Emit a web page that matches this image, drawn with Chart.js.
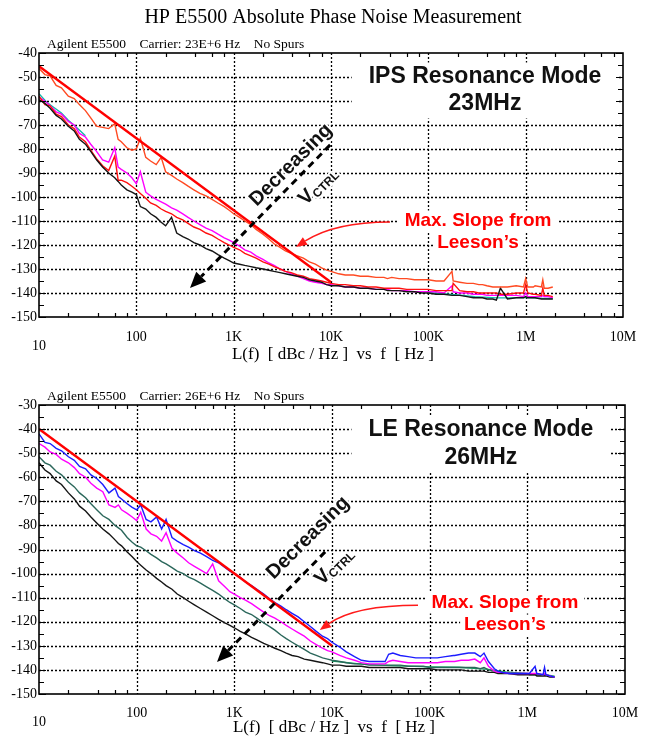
<!DOCTYPE html>
<html><head><meta charset="utf-8">
<script src="https://cdn.jsdelivr.net/npm/chart.js@4/dist/chart.umd.min.js"></script>
<style>
html,body{margin:0;padding:0;background:#fff;}
body{width:650px;height:743px;position:relative;overflow:hidden;}
canvas{position:absolute;left:0;}
#c1{top:0}
#c2{top:372px}
</style></head><body>
<canvas id="c1" width="650" height="372"></canvas>
<canvas id="c2" width="650" height="371"></canvas>
<script>
// ---------- data ----------
const FREQ = [10, 11.5, 13, 15, 17, 20, 23, 26, 30, 34, 39, 45, 52, 60, 65, 70, 80, 90,
 100, 110, 125, 140, 160, 180, 200, 230, 260, 300, 340, 390, 450, 520, 600, 690, 800, 900,
 1000, 1150, 1300, 1500, 1700, 2000, 2300, 2600, 3000, 3400, 3900, 4500, 5200, 6000, 6900, 8000, 9000,
 10000, 12000, 14000, 17000, 20000, 24000, 29000, 35000, 38000, 42000, 50000, 60000, 72000, 86000,
 100000, 120000, 145000, 175000, 180000, 210000, 250000, 290000, 330000, 360000, 400000, 460000, 500000, 550000, 650000, 800000, 950000, 1000000, 1050000, 1200000, 1250000, 1450000, 1500000, 1550000, 1700000, 1900000];

const X_TICK_VALUES = [10, 100, 1000, 10000, 100000, 1000000, 10000000];
const X_TICK_LABELS = ['10', '100', '1K', '10K', '100K', '1M', '10M'];
const X_MINOR_MULT = [2, 4, 6, 8];

// Panel 1 : IPS resonance mode, 23 MHz
const IPS_SLOPE_F = [10, 10000];
const IPS_SLOPE = [-45.5, -135.5];
const IPS_ORANGE = [-46.5, -49, -49.5, -53.5, -54.5, -58, -59, -61.5, -64, -67, -70.5, -71, -71.5, -69.5, -76, -77, -79.5, -80.5,
 -80, -75.5, -83.5, -85, -86.5, -83.5, -89.5, -91, -92.5, -94, -95.5, -97, -98.5, -99.5, -101, -102.5, -104, -105.5,
 -107, -108.5, -110, -111.5, -113.5, -115.5, -117.5, -119.5, -121, -122.5, -123.5, -124.5, -125.5, -127, -128, -129.5, -130.5,
 -131, -132, -132.5, -132.5, -133, -133, -133.5, -133.5, -134, -133.5, -134, -134, -134.5, -134.5,
 -134.5, -135, -135, -131, -135, -135.5, -136, -136, -136.5, -136.5, -137, -137.5, -137.5, -137.5, -137.5, -137, -137.5, -134, -137.5, -137.5, -137, -137.5, -134.5, -138, -138, -137.5];
const IPS_RED = [-58, -61.5, -62, -65.5, -66.5, -70, -71.5, -75, -77, -80.5, -84, -87, -89, -83, -93, -93, -94, -95.5,
 -97, -98.5, -100.5, -102.5, -103.5, -105, -106, -107, -108.5, -109.5, -111, -112.5, -113.5, -115, -116, -117.5, -119, -120,
 -121, -122, -123.5, -124.5, -125.5, -127, -128, -129, -130, -131, -131.5, -132.5, -133, -134, -134.5, -135, -135.5,
 -136, -136.5, -136.5, -137, -137, -137.5, -137.5, -138, -138, -138, -138, -138.5, -138.5, -138.5,
 -138.5, -139, -139, -139, -136, -139, -139.5, -139.5, -140, -140, -140, -140, -140, -140.5, -140.5, -140, -140, -136.5, -140, -140.5, -140.5, -141, -138, -141, -141, -141.5];
const IPS_MAGENTA = [-58.5, -60, -62, -64.5, -65.5, -68.5, -70, -73.5, -75, -78, -81, -84.5, -85.5, -79.5, -87.5, -88.5, -90, -92,
 -94.5, -89.5, -98, -99.5, -101, -102, -103, -104.5, -105.5, -107, -108.5, -110, -111.5, -113, -114, -115.5, -117, -118,
 -119, -120.5, -122, -123, -124.5, -126, -127.5, -128.5, -130, -131, -132, -133, -134, -135, -135.5, -136, -136.5,
 -136.5, -137, -137.5, -137.5, -138, -138, -138.5, -138.5, -138.5, -139, -139, -139, -139.5, -139.5,
 -139.5, -139.5, -140, -137, -139.5, -140, -140, -140.5, -140.5, -140.5, -141, -141, -141, -141, -141, -141, -141.5, -140, -141.5, -141.5, -141.5, -141.5, -141, -141.5, -141.5, -142];
const IPS_BLACK = [-59.5, -61, -63, -66, -67.5, -70.5, -72.5, -76, -78, -81, -84.5, -87.5, -90, -92, -93.5, -95, -97, -98,
 -99, -104, -105, -107, -108.5, -110.5, -112, -108.5, -115, -116.5, -117.5, -119, -120, -121.5, -122.5, -124, -125.5, -126.5,
 -127.5, -128, -128.5, -129, -129.5, -130, -130.5, -131, -131.5, -132, -132.5, -133, -133.5, -134.5, -135, -135.5, -136.5,
 -137, -137, -137.5, -137.5, -138, -138, -138.5, -138.5, -139, -139, -139, -139.5, -139.5, -140,
 -140, -140.5, -140.5, -141, -141, -141, -141.5, -142, -142, -142, -142.5, -142.5, -143, -138, -142.5, -142, -142, -141.5, -142, -142, -142, -142.5, -142.5, -142.5, -142.5, -142.5];
// cyan trace: visible only at the low and high ends (null = hidden under the other traces)
const IPS_CYAN_F = [10, 12, 14, 17, 20, 25, 30, 40, 100000, 200000, 300000, 500000, 700000, 1000000, 1500000, 1900000];
const IPS_CYAN = [-57, -60.5, -62.5, -65, -68, -71.5, -74.5, null, -139.8, -140.8, -141.5, -142, -142, -141.8, -142.2, -142.3];

// Panel 2 : LE resonance mode, 26 MHz
const LE_SLOPE_F = [10, 10000];
const LE_SLOPE = [-40, -130];
const LE_BLUE = [-42, -45.5, -46, -48, -49, -51.5, -53, -55.5, -56.5, -59, -60.5, -63, -66.5, -64.5, -68, -69, -71, -72.5,
 -73.5, -71.5, -77.5, -78.5, -76.5, -81.5, -77.5, -85, -86.5, -88, -89, -90.5, -91.5, -93, -94.5, -95.5, -97.5, -99,
 -100, -101.5, -103.5, -105, -106.5, -108.5, -110.5, -112, -113.5, -115, -116.5, -118, -120, -122, -124, -126, -127,
 -128.5, -130.5, -132.5, -134.5, -136, -136.5, -136.5, -136.5, -133.5, -133, -134, -134.5, -135, -135,
 -135, -135, -134.5, -134, -134, -133.5, -133, -133, -134.5, -133, -136.5, -139.5, -140.5, -141, -141.5, -141.5, -141.5, -141.5, -141.5, -138.5, -141.5, -142, -139, -142, -142.5, -143];
const LE_MAGENTA = [-46, -47.5, -49.5, -50.5, -52.5, -54, -56, -58.5, -60, -62.5, -64.5, -66, -71.5, -72.5, -71.5, -73.5, -75, -76.5,
 -78, -74.5, -81.5, -83.5, -84.5, -86.5, -83, -89.5, -91.5, -93.5, -95.5, -97, -98.5, -100, -96, -103, -105.5, -107.5,
 -108.5, -110, -111, -112.5, -114, -116, -117.5, -118.5, -120, -121.5, -123, -124.5, -126, -128, -129.5, -131, -132,
 -132.5, -134, -135, -136, -137, -137.5, -137.5, -137.5, -136.5, -136, -136.5, -137, -137, -137,
 -137, -137, -136.5, -136.5, -136.5, -136, -136, -135.5, -137, -135, -138.5, -140.5, -141, -141, -141.5, -141.5, -141.5, -141.5, -141.5, -141.5, -141.5, -142, -141.5, -142, -142.5, -143];
const LE_TEAL = [-51.5, -54, -55, -57.5, -59, -62, -64, -66.5, -68.5, -71, -73.5, -76, -77.5, -80, -81, -82, -85, -87,
 -88.5, -89, -90.5, -92, -93.5, -95, -96, -97.5, -99, -100, -101.5, -102.5, -104, -105.5, -107, -108.5, -110.5, -112,
 -113, -114.5, -116, -117, -118.5, -120.5, -122, -123.5, -125.5, -127, -128.5, -130, -131.5, -133, -134, -135, -135.5,
 -136, -136.5, -137, -137.5, -137.5, -138, -138, -138, -138, -138, -138, -138.5, -138.5, -138.5,
 -139, -139, -139, -139, -139, -139, -139, -139, -139.5, -139, -140, -140.5, -141, -141, -141.5, -141.5, -141.5, -141.5, -142, -142, -142, -142, -142, -142, -142.5, -143];
const LE_BLACK = [-54, -57, -58.5, -61.5, -63, -66.5, -69, -72, -74, -76.5, -79, -81.5, -83.5, -86, -87.5, -88.5, -91, -93,
 -95, -96.5, -98.5, -100, -102, -103.5, -105, -106.5, -108.5, -110, -111.5, -113, -114.5, -116, -117.5, -119, -120.5, -121.5,
 -122.5, -124, -125, -126.5, -127.5, -129, -130, -131, -132, -133, -134, -134.5, -135.5, -136, -136.5, -137, -137.5,
 -138, -138, -138.5, -138.5, -138.5, -139, -139, -139, -139, -139, -139, -139.5, -139.5, -139.5,
 -139.5, -140, -140, -140, -140, -140, -140.5, -140.5, -140.5, -140.5, -141, -141, -141.5, -141.5, -141.5, -142, -142, -142, -142, -142, -142.5, -142.5, -142.5, -142.5, -143, -143];
const LE_GREEN_F = [10000, 20000, 40000, 100000, 200000, 400000, 600000, 1000000, 1500000, 1900000];
const LE_GREEN = [-136.3, -137.6, -138.2, -138.7, -138.9, -139.8, -140.8, -141.5, -142, -142.6];

// ---------- helpers ----------
const SERIF = "'Liberation Serif','Times New Roman',serif";
const SANS = "'Liberation Sans',Arial,sans-serif";

function pts(fr, vals) { return fr.map((f, i) => ({ x: f, y: vals[i] })); }
function ds(label, fr, vals, color, width, gaps) {
  return { label, data: pts(fr, vals), borderColor: color, backgroundColor: color, borderWidth: width || 1.4,
           pointRadius: 0, fill: false, tension: 0, spanGaps: gaps === undefined ? true : gaps };
}

function decorPlugin(cfg) {
  const fontOf = t => `${t.weight || 'normal'} ${t.size}px ${t.family}`;
  return {
    id: 'decor',
    beforeDatasetsDraw(chart) {
      const { ctx, chartArea: a, scales: { x, y } } = chart;
      ctx.save();
      ctx.strokeStyle = '#000'; ctx.lineWidth = 1.3; ctx.setLineDash([2, 2]);
      ctx.beginPath();
      X_TICK_VALUES.forEach(v => {
        if (v <= x.min || v >= x.max) return;
        const px = Math.round(x.getPixelForValue(v)) + 0.5;
        ctx.moveTo(px, a.top); ctx.lineTo(px, a.bottom);
      });
      y.ticks.forEach(t => {
        if (t.value <= y.min || t.value >= y.max) return;
        const py = Math.round(y.getPixelForValue(t.value)) + 0.5;
        ctx.moveTo(a.left, py); ctx.lineTo(a.right, py);
      });
      ctx.stroke();
      ctx.setLineDash([]);
      // white boxes behind labels
      const groups = {};
      cfg.texts.forEach(t => {
        if (!t.box) return;
        ctx.font = fontOf(t);
        const w = ctx.measureText(t.text).width;
        const cx = x.getPixelForValue(t.f), cy = y.getPixelForValue(t.db);
        const r = [cx - w / 2 - t.box[0], cy - t.size * 0.5 - t.box[1], cx + w / 2 + t.box[0], cy + t.size * 0.5 + t.box[1]];
        const g = t.group || t.text;
        if (groups[g]) {
          const o = groups[g];
          o[0] = Math.min(o[0], r[0]); o[1] = Math.min(o[1], r[1]);
          o[2] = Math.max(o[2], r[2]); o[3] = Math.max(o[3], r[3]);
        } else groups[g] = r;
      });
      ctx.fillStyle = '#fff';
      Object.values(groups).forEach(r => ctx.fillRect(r[0], r[1], r[2] - r[0], r[3] - r[1]));
      ctx.restore();
    },
    afterDatasetsDraw(chart) {
      const { ctx, chartArea: a, scales: { x, y } } = chart;
      const P = (f, db) => [x.getPixelForValue(f), y.getPixelForValue(db)];
      ctx.save();
      // frame
      ctx.strokeStyle = '#000'; ctx.lineWidth = 1.6;
      ctx.strokeRect(a.left, a.top, a.right - a.left, a.bottom - a.top);
      // ticks
      ctx.lineWidth = 1.2; ctx.beginPath();
      X_TICK_VALUES.forEach(d => {
        if (d >= x.max) return;
        X_MINOR_MULT.forEach(m => {
          const px = Math.round(x.getPixelForValue(d * m)) + 0.5;
          ctx.moveTo(px, a.bottom); ctx.lineTo(px, a.bottom - 4);
          ctx.moveTo(px, a.top); ctx.lineTo(px, a.top + 4);
        });
      });
      for (let v = y.min; v <= y.max; v += 5) {
        const len = (Math.abs(v) % 10 === 0) ? 7 : 5;
        const py = Math.round(y.getPixelForValue(v)) + 0.5;
        ctx.moveTo(a.left, py); ctx.lineTo(a.left + len, py);
        ctx.moveTo(a.right, py); ctx.lineTo(a.right - len, py);
      }
      ctx.stroke();
      // x tick labels
      ctx.fillStyle = '#000';
      ctx.font = `14px ${SERIF}`; ctx.textAlign = 'center'; ctx.textBaseline = 'middle';
      X_TICK_VALUES.forEach((v, i) => {
        const px = x.getPixelForValue(v);
        ctx.fillText(X_TICK_LABELS[i], px, a.bottom + (i === 0 ? cfg.firstDy : cfg.labelDy));
      });
      // x axis title
      ctx.font = `17px ${SERIF}`;
      ctx.fillText('L(f)  [ dBc / Hz ]  vs  f  [ Hz ]', (a.left + a.right) / 2 + 2, a.bottom + cfg.titleDy);
      // subtitle
      ctx.font = `13.5px ${SERIF}`; ctx.textAlign = 'left';
      ctx.fillText(cfg.subtitle, a.left + 8, a.top - 8.5);
      if (cfg.title) {
        ctx.font = `20px ${SERIF}`; ctx.textAlign = 'center';
        ctx.fillText(cfg.title, 333, 18);
      }
      // plain texts
      cfg.texts.forEach(t => {
        const [cx, cy] = P(t.f, t.db);
        ctx.font = fontOf(t); ctx.fillStyle = t.color; ctx.textAlign = 'center'; ctx.textBaseline = 'middle';
        ctx.fillText(t.text, cx, cy);
      });
      // dashed arrow
      const d = cfg.dashed;
      const [x0, y0] = P(d.from[0], d.from[1]);
      const [x1, y1] = P(d.to[0], d.to[1]);
      const ang = Math.atan2(y1 - y0, x1 - x0);
      const hl = 16, hw = 7;
      const bx = x1 - hl * Math.cos(ang), by = y1 - hl * Math.sin(ang);
      ctx.strokeStyle = '#000'; ctx.lineWidth = 3; ctx.setLineDash([7, 5]);
      ctx.beginPath(); ctx.moveTo(x0, y0); ctx.lineTo(bx, by); ctx.stroke();
      ctx.setLineDash([]);
      ctx.fillStyle = '#000'; ctx.beginPath();
      ctx.moveTo(x1, y1);
      ctx.lineTo(bx + hw * Math.sin(ang), by - hw * Math.cos(ang));
      ctx.lineTo(bx - hw * Math.sin(ang), by + hw * Math.cos(ang));
      ctx.closePath(); ctx.fill();
      // rotated texts
      const rot = -Math.PI / 4;
      const halo = (fn) => { ctx.strokeStyle = '#fff'; ctx.lineWidth = 4; ctx.lineJoin = 'round'; fn(true); fn(false); };
      {
        const [cx, cy] = P(cfg.decreasing[0], cfg.decreasing[1]);
        ctx.save(); ctx.translate(cx, cy); ctx.rotate(rot);
        ctx.font = `bold 20px ${SANS}`; ctx.textAlign = 'center'; ctx.textBaseline = 'middle';
        halo(s => { if (s) ctx.strokeText('Decreasing', 0, 0); else { ctx.fillStyle = '#111'; ctx.fillText('Decreasing', 0, 0); } });
        ctx.restore();
      }
      {
        const [cx, cy] = P(cfg.vctrl[0], cfg.vctrl[1]);
        ctx.save(); ctx.translate(cx, cy); ctx.rotate(rot);
        ctx.textAlign = 'left'; ctx.textBaseline = 'middle';
        ctx.font = `bold 20px ${SANS}`; const wV = ctx.measureText('V').width;
        ctx.font = `bold 12px ${SANS}`; const wC = ctx.measureText('CTRL').width;
        const sx = -(wV + wC) / 2;
        halo(s => {
          ctx.font = `bold 20px ${SANS}`;
          if (s) ctx.strokeText('V', sx, 0); else { ctx.fillStyle = '#111'; ctx.fillText('V', sx, 0); }
          ctx.font = `bold 12px ${SANS}`;
          if (s) ctx.strokeText('CTRL', sx + wV, 5); else { ctx.fillStyle = '#111'; ctx.fillText('CTRL', sx + wV, 5); }
        });
        ctx.restore();
      }
      // red curved arrow
      const r = cfg.redArrow;
      const [sx, sy] = P(r.start[0], r.start[1]);
      const [qx, qy] = P(r.ctrl[0], r.ctrl[1]);
      const [ex, ey] = P(r.end[0], r.end[1]);
      const ra = Math.atan2(ey - qy, ex - qx);
      const rhl = 11, rhw = 4.5;
      const rbx = ex - rhl * Math.cos(ra), rby = ey - rhl * Math.sin(ra);
      ctx.strokeStyle = '#ff1a1a'; ctx.lineWidth = 1.5;
      ctx.beginPath(); ctx.moveTo(sx, sy); ctx.quadraticCurveTo(qx, qy, rbx, rby); ctx.stroke();
      ctx.fillStyle = '#ff1a1a'; ctx.beginPath();
      ctx.moveTo(ex, ey);
      ctx.lineTo(rbx + rhw * Math.sin(ra), rby - rhw * Math.cos(ra));
      ctx.lineTo(rbx - rhw * Math.sin(ra), rby + rhw * Math.cos(ra));
      ctx.closePath(); ctx.fill();
      ctx.restore();
    }
  };
}

function makeChart(id, cfg) {
  return new Chart(document.getElementById(id), {
    type: 'line',
    data: { datasets: cfg.datasets },
    options: {
      responsive: false, animation: false, devicePixelRatio: 1,
      layout: { padding: { top: cfg.padTop, right: cfg.padRight, left: 0, bottom: 0 } },
      plugins: { legend: { display: false }, tooltip: { enabled: false }, title: { display: false } },
      scales: {
        x: { type: 'logarithmic', min: 10, max: 1e7, ticks: { display: false }, grid: { display: false }, border: { display: false },
             afterFit(s) { s.height = cfg.xHeight; } },
        y: { type: 'linear', min: cfg.yMin, max: cfg.yMax,
             ticks: { stepSize: 10, color: '#000', font: { family: SERIF, size: 14 }, padding: 2 },
             grid: { display: false, drawTicks: false }, border: { display: false },
             afterFit(s) { s.width = 39; } }
      }
    },
    plugins: [decorPlugin(cfg)]
  });
}

makeChart('c1', {
  padTop: 53, padRight: 27, xHeight: 55, yMin: -150, yMax: -40,
  labelDy: 20, firstDy: 29, titleDy: 38,
  title: 'HP E5500 Absolute Phase Noise Measurement',
  subtitle: 'Agilent E5500    Carrier: 23E+6 Hz    No Spurs',
  datasets: [
    ds("Max. Slope from Leeson's", IPS_SLOPE_F, IPS_SLOPE, '#ff0000', 2.4),
    ds('Trace 1', FREQ, IPS_ORANGE, '#ff4a22'),
    ds('Trace 4', FREQ, IPS_BLACK, '#151515'),
    ds('Trace 2', FREQ, IPS_RED, '#ff1010'),
    ds('Trace 3', FREQ, IPS_MAGENTA, '#ff00ff'),
    ds('Trace 5', IPS_CYAN_F, IPS_CYAN, '#12b5a8', 1.3, false)
  ],
  texts: [
    { text: 'IPS Resonance Mode', f: 3.82e5, db: -50, size: 23, weight: 'bold', family: SANS, color: '#111', box: [17, 3], group: 't' },
    { text: '23MHz', f: 3.82e5, db: -61.25, size: 23, weight: 'bold', family: SANS, color: '#111', box: [17, 3], group: 't' },
    { text: 'Max. Slope from', f: 3.24e5, db: -110, size: 19, weight: 'bold', family: SANS, color: '#ff0000', box: [6, 1] },
    { text: 'Leeson\u2019s', f: 3.24e5, db: -119.2, size: 19, weight: 'bold', family: SANS, color: '#ff0000', box: [4, 1] }
  ],
  decreasing: [3.88e3, -86.7],
  vctrl: [7.35e3, -95.4],
  dashed: { from: [9.8e3, -78.3], to: [356, -137.9] },
  redArrow: { start: [4.04e4, -110.4], ctrl: [1.1e4, -110.4], end: [4.37e3, -120.8] }
});

makeChart('c2', {
  padTop: 33, padRight: 25, xHeight: 49, yMin: -150, yMax: -30,
  labelDy: 19, firstDy: 28, titleDy: 34,
  subtitle: 'Agilent E5500    Carrier: 26E+6 Hz    No Spurs',
  datasets: [
    ds("Max. Slope from Leeson's", LE_SLOPE_F, LE_SLOPE, '#ff0000', 2.4),
    ds('Trace 1', FREQ, LE_BLUE, '#1c1cff'),
    ds('Trace 2', FREQ, LE_MAGENTA, '#ff00ff'),
    ds('Trace 4', FREQ, LE_BLACK, '#151515'),
    ds('Trace 3', FREQ, LE_TEAL, '#2b675b'),
    ds('Trace 5', LE_GREEN_F, LE_GREEN, '#10a860', 1.3)
  ],
  texts: [
    { text: 'LE Resonance Mode', f: 3.35e5, db: -40.4, size: 23, weight: 'bold', family: SANS, color: '#111', box: [17, 3], group: 't' },
    { text: '26MHz', f: 3.35e5, db: -52, size: 23, weight: 'bold', family: SANS, color: '#111', box: [17, 3], group: 't' },
    { text: 'Max. Slope from', f: 5.9e5, db: -112.2, size: 19, weight: 'bold', family: SANS, color: '#ff0000', box: [6, 1] },
    { text: 'Leeson\u2019s', f: 5.9e5, db: -121.4, size: 19, weight: 'bold', family: SANS, color: '#ff0000', box: [4, 1] }
  ],
  decreasing: [5.68e3, -85.2],
  vctrl: [1.05e4, -96.9],
  dashed: { from: [8.5e3, -91], to: [664, -136.7] },
  redArrow: { start: [7.6e4, -113.1], ctrl: [1.72e4, -113.1], end: [7.5e3, -123.4] }
});
</script>
</body></html>
